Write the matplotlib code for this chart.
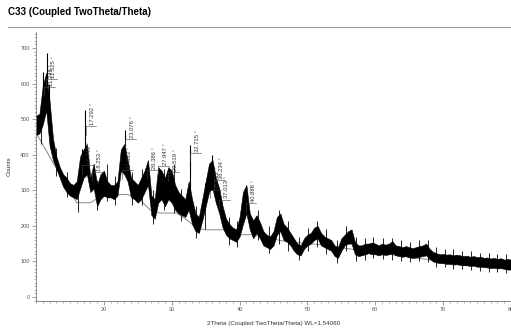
import numpy as np
import matplotlib.pyplot as plt
from matplotlib.ticker import MultipleLocator

# difratograma (passo de 0.5 graus): borda superior e inferior do ruido
two_theta = np.arange(10, 80.01, 0.5)
upper = [510, 515, 595, 630, 550, 445, 395, 365, 345, 335,
         320, 315, 325, 395, 415, 430, 335, 375, 315, 345,
         355, 325, 315, 315, 325, 415, 430, 385, 335, 325,
         315, 335, 355, 385, 285, 275, 365, 355, 335, 365,
         355, 315, 295, 285, 275, 325, 275, 235, 225, 275,
         325, 375, 385, 335, 305, 255, 220, 205, 195, 190,
         225, 295, 315, 235, 215, 230, 210, 185, 175, 170,
         185, 225, 235, 205, 195, 180, 165, 150, 145, 165,
         175, 180, 195, 200, 180, 170, 165, 160, 145, 140,
         165, 175, 185, 190, 155, 145, 145, 150, 150, 153,
         150, 145, 150, 147, 150, 157, 145, 143, 140, 143,
         140, 137, 140, 143, 145, 150, 135, 127, 123, 120,
         121, 119, 120, 117, 119, 117, 115, 116, 113, 115,
         112, 113, 110, 111, 108, 110, 107, 109, 105, 107, 105]
lower = [455, 460, 485, 525, 425, 385, 360, 335, 310, 295,
         285, 280, 275, 305, 335, 345, 295, 305, 255, 275,
         285, 280, 280, 275, 285, 355, 345, 325, 280, 275,
         265, 275, 295, 315, 230, 220, 265, 275, 255, 275,
         265, 245, 235, 230, 225, 245, 205, 185, 180, 215,
         255, 295, 305, 265, 235, 195, 175, 165, 160, 155,
         170, 205, 235, 190, 165, 180, 165, 145, 140, 135,
         145, 175, 185, 160, 155, 145, 130, 120, 117, 135,
         145, 150, 160, 165, 145, 140, 135, 130, 115, 110,
         130, 145, 150, 150, 120, 115, 117, 120, 123, 120,
         120, 117, 120, 118, 120, 123, 117, 115, 113, 115,
         111, 110, 111, 113, 115, 117, 107, 100, 97, 95,
         95, 93, 93, 91, 92, 90, 89, 89, 87, 88,
         85, 85, 84, 83, 81, 82, 80, 81, 79, 77, 77]

# picos estreitos (posicao, base, topo)
spike_pos = [11.1, 11.45, 11.6, 11.85, 16.75, 17.29, 23.08, 32.72, 36.0]
spike_low = [520, 540, 520, 480, 330, 340, 350, 240, 300]
spike_top = [632, 610, 685, 600, 415, 527, 470, 428, 400]

# pontas de ruido visiveis acima/abaixo da faixa
noise_x = [10.8, 12.9, 14.6, 16.2, 19.0, 20.4, 21.7, 24.1, 25.6, 27.3, 28.9, 30.3,
           31.4, 33.6, 34.9, 38.4, 39.6, 42.7, 44.3, 45.8, 47.2, 48.7, 50.1, 51.4,
           52.8, 54.3, 55.7, 57.2, 58.5, 59.7, 61.1, 62.5, 63.8, 65.1, 66.4, 67.7,
           68.9, 70.2, 71.5, 72.8, 74.1, 75.4, 76.7, 78.0, 79.3]
noise_bot = [430, 340, 280, 240, 245, 270, 260, 260, 260, 205, 245, 235,
             215, 165, 190, 145, 140, 160, 125, 150, 130, 105, 130, 140,
             120, 95, 130, 100, 105, 110, 108, 105, 100, 98, 100, 98,
             85, 83, 80, 78, 76, 74, 70, 70, 68]
noise_top = [530, 420, 350, 345, 330, 375, 340, 350, 360, 300, 360, 375,
             305, 255, 320, 225, 215, 245, 200, 245, 215, 170, 195, 215,
             190, 160, 200, 170, 165, 170, 165, 165, 160, 155, 160, 160,
             140, 135, 135, 130, 130, 125, 125, 120, 120]

# linha de fundo (background)
bg_x = [10, 12.5, 16, 18, 19.5, 22.5, 23.5, 25.3, 26.8, 28.2, 30.7, 32.2, 33.7,
        35, 38, 40, 42, 47, 52, 57, 60, 65, 70, 75, 80]
bg_y = [462, 378, 265, 265, 282, 288, 288, 274, 245, 236, 236, 217, 194,
        189, 189, 175, 175, 155, 147, 133, 125, 112, 100, 90, 85]

# rotulos dos picos
peak_pos = [11.2, 11.525, 16.749, 17.292, 18.253, 22.663, 23.076, 26.386,
            27.947, 29.519, 32.715, 35.6, 36.234, 37.013, 40.888]
peak_base = [590, 612, 372, 480, 350, 358, 443, 358, 369, 350, 406, 302, 330, 274, 265]
peak_text = ['11.248 °', '11.525 °', '16.749 °', '17.292 °', '18.253 °', '22.663 °',
             '23.076 °', '26.386 °', '27.947 °', '29.519 °', '32.715 °', '35.612 °',
             '36.234 °', '37.013 °', '40.888 °']

plt.rcParams['font.family'] = ['Liberation Sans', 'DejaVu Sans']

fig = plt.figure(figsize=(5.11, 3.29), dpi=100)
ax = fig.add_axes([0.0705, 0.0866, 0.9295, 0.816])

ax.plot(bg_x, bg_y, color='#888888', linewidth=0.7, zorder=1)
ax.fill_between(two_theta, lower, upper, color='black', linewidth=0.4, zorder=2)
ax.vlines(spike_pos, spike_low, spike_top, color='black', linewidth=0.8, zorder=2)
ax.vlines(noise_x, noise_bot, noise_top, color='black', linewidth=0.6, zorder=2)

for p, b, t in zip(peak_pos, peak_base, peak_text):
    ax.plot([p, p], [b - 25, b], color='#444444', linewidth=0.4, zorder=3)
    ax.plot([p, p + 1.6], [b, b], color='#444444', linewidth=0.4, zorder=3)
    ax.text(p + 1.1, b + 3, t, rotation=90, fontsize=4.2, color='#333333',
            ha='center', va='bottom', zorder=4)

ax.set_xlim(10, 80)
ax.set_ylim(-10, 745)
ax.set_xticks([20, 30, 40, 50, 60, 70, 80])
ax.set_yticks([0, 100, 200, 300, 400, 500, 600, 700])
ax.xaxis.set_minor_locator(MultipleLocator(1))
ax.yaxis.set_minor_locator(MultipleLocator(10))
ax.tick_params(which='major', length=3, width=0.5, color='#777777',
               labelsize=4, labelcolor='#555555', pad=1.5)
ax.tick_params(which='minor', length=1.5, width=0.4, color='#777777')

for s in ['top', 'right']:
    ax.spines[s].set_visible(False)
for s in ['left', 'bottom']:
    ax.spines[s].set_color('#777777')
    ax.spines[s].set_linewidth(0.6)

ax.set_ylabel('Counts', fontsize=4.5, color='#333333', labelpad=6)
ax.set_xlabel('2Theta (Coupled TwoTheta/Theta) WL=1.54060', fontsize=4.5,
              color='#333333', labelpad=7)

fig.text(8 / 511, 1 - 12 / 329, 'C33 (Coupled TwoTheta/Theta)', fontsize=7,
         fontweight='bold', ha='left', va='center')
fig.add_artist(plt.Line2D([8 / 511, 1.0], [1 - 27 / 329, 1 - 27 / 329],
                          color='#999999', linewidth=0.8))

fig.savefig('out.png', dpi=100)
